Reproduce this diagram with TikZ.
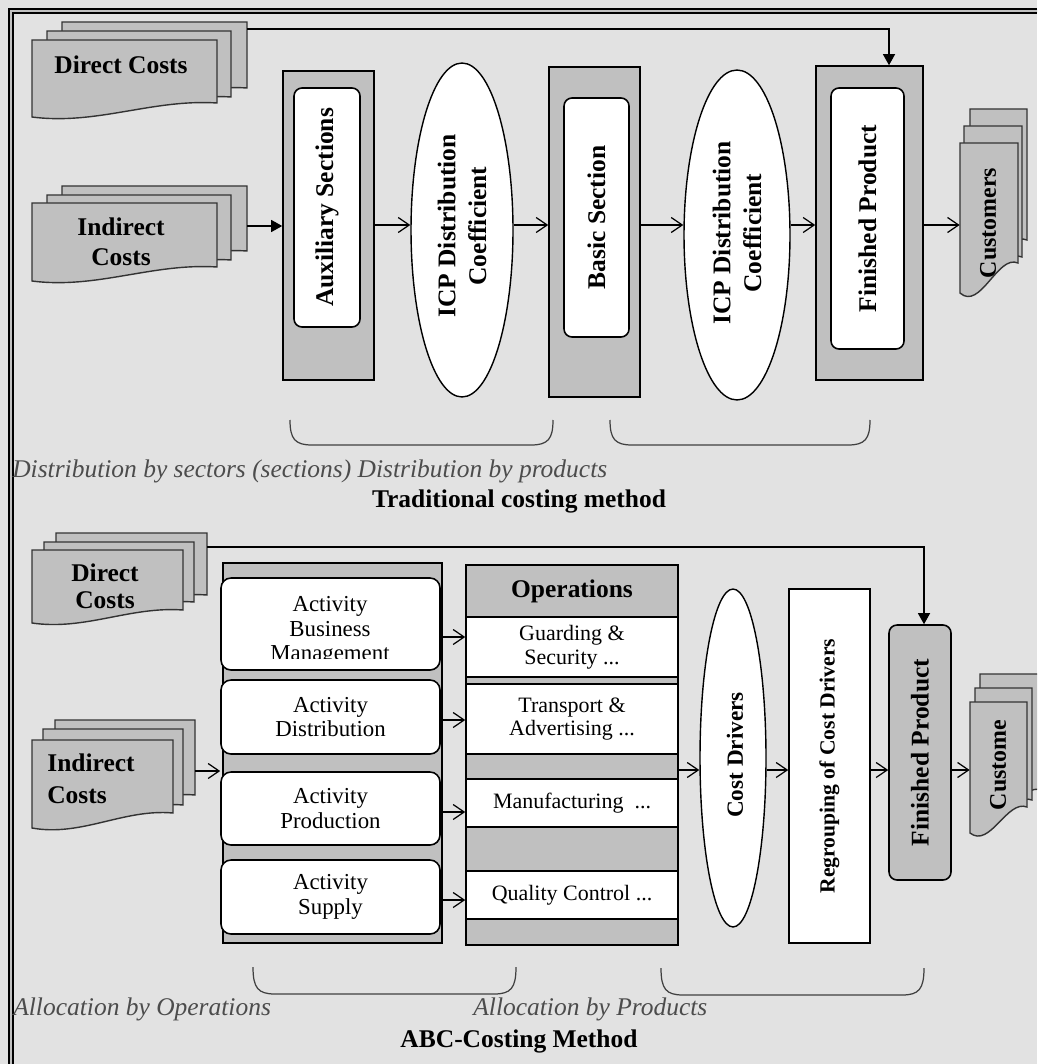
\documentclass[tikz,border=0pt]{standalone}
\usepackage{fontspec}
\setmainfont{Liberation Serif}
\usetikzlibrary{shapes.geometric,arrows.meta,fit}

\definecolor{boxgray}{RGB}{192,192,192}
\definecolor{bggray}{RGB}{226,226,226}

% one page of a document stack: x0, y0, x1, right bottom, drop of the wave
\newcommand{\docpage}[5]{%
  \filldraw[fill=boxgray, draw=black!80, line width=0.8pt]
    (#1,#2) -- (#3,#2) -- (#3,#4)
    .. controls ({#1+0.65*(#3-#1)},{#4-0.3*#5}) and ({#1+0.35*(#3-#1)},{#4+1.6*#5})
    .. (#1,{#4+#5}) -- cycle;}

% curly brace under a group: x0, x1, top, bottom
\newcommand{\brc}[4]{%
  \draw[black!75, line width=0.7pt] (#1,#3) .. controls (#1,{#4-6}) and ({#1+5},#4) .. ({#1+22},#4)
    -- ({#2-22},#4) .. controls ({#2-5},#4) and (#2,{#4-6}) .. (#2,#3);}

\tikzset{
  graybox/.style={draw, fill=boxgray, line width=0.9pt, inner sep=0pt},
  whitebox/.style={draw, fill=white, rounded corners=0.16cm, line width=0.9pt, inner sep=0pt},
  rowbox/.style={draw, fill=white, line width=0.9pt, inner sep=0pt},
  ellip/.style={ellipse, draw, fill=white, line width=0.8pt, inner sep=0pt},
  vlab/.style={rotate=90, font=\fontsize{14.5}{17.5}\selectfont\bfseries, align=center},
  doclab/.style={font=\fontsize{14.5}{17}\selectfont\bfseries, align=center},
  actlab/.style={font=\fontsize{13}{14}\selectfont, align=center},
  oplab/.style={font=\fontsize{12.5}{13.5}\selectfont, align=center},
  note/.style={font=\fontsize{14.5}{17}\selectfont\itshape, text=black!70, inner sep=0pt},
  headtext/.style={font=\fontsize{14.5}{17}\selectfont\bfseries, inner sep=0pt},
  opentip/.style={-{Straight Barb[length=0.22cm,width=0.3cm]}, line width=0.7pt},
  filltip/.style={-{Triangle[length=0.22cm,width=0.24cm]}, line width=0.7pt},
}

\begin{document}
\begin{tikzpicture}[x=0.02cm, y=-0.02cm]
  \useasboundingbox (0,0) rectangle (1037,1064);
  \clip (0,0) rectangle (1037,1064);
  \fill[bggray] (0,0) rectangle (1037,1064);
  % frame
  \fill[boxgray] (9,1064) -- (9,9) -- (1037,9) -- (1037,13) -- (13,13) -- (13,1064) -- cycle;
  \draw[line width=0.8pt] (9,1064) -- (9,9) -- (1037,9);
  \draw[line width=0.8pt] (13,1064) -- (13,13) -- (1037,13);

  % traditional costing method
  \docpage{62}{22}{247}{88}{14}
  \docpage{47}{31}{231}{97}{14}
  \docpage{32}{40}{217}{103}{14}
  \node[doclab] (dc) at (121,65) {Direct Costs};
  \docpage{62}{186}{247}{251}{14}
  \docpage{47}{195}{231}{260}{14}
  \docpage{32}{203}{217}{267}{14}
  \node[doclab] (ic) at (121,242) {Indirect\\Costs};

  \node[graybox, fit={(283,71) (374,380)}] (aux) {};
  \node[whitebox, fit={(294,88) (360,327)}] (auxin) {};
  \node[vlab] (auxt) at (auxin) {Auxiliary Sections};

  \node[ellip, minimum width=2.04cm, minimum height=6.68cm] (icp1) at (462,230) {};
  \node[vlab] (icp1t) at (462,226) {ICP Distribution\\Coefficient};

  \node[graybox, fit={(549,67) (640,397)}] (basic) {};
  \node[whitebox, fit={(564,98) (629,337)}] (basicin) {};
  \node[vlab] (basict) at (basicin) {Basic Section};

  \node[ellip, minimum width=2.12cm, minimum height=6.6cm] (icp2) at (737,235) {};
  \node[vlab] (icp2t) at (737,233) {ICP Distribution\\Coefficient};

  \node[graybox, fit={(816,66) (923,380)}] (fin) {};
  \node[whitebox, fit={(831,88) (904,349)}] (finin) {};
  \node[vlab] (fint) at (finin) {Finished Product};

  \docpage{970}{109}{1027}{240}{30}
  \docpage{964}{126}{1022}{257}{30}
  \docpage{960}{143}{1018}{263}{30}
  \node[fit={(960,143) (1018,263)}, inner sep=0pt] (cust) {};
  \node[vlab, font=\fontsize{13.6}{16}\selectfont\bfseries] (custt) at (988,223) {Customers};

  \coordinate (rowT) at (0,225);
  \coordinate (dcR) at (247,29);
  \coordinate (dcT) at (889,29);
  \coordinate (icR) at (247,226);
  \draw[filltip] (dcR) -- (dcT) -- (dcT |- fin.north);
  \draw[filltip] (icR) -- (aux.west |- icR);
  \draw[opentip] (aux.east |- rowT) -- (icp1.west |- rowT);
  \draw[opentip] (icp1.east |- rowT) -- (basic.west |- rowT);
  \draw[opentip] (basic.east |- rowT) -- (icp2.west |- rowT);
  \draw[opentip] (icp2.east |- rowT) -- (fin.west |- rowT);
  \draw[opentip] (fin.east |- rowT) -- (cust.west |- rowT);

  \brc{290}{553}{420}{445}
  \brc{610}{870}{420}{445}
  \node[note, anchor=base west] (cap1) at (12,477) {Distribution\ by sectors\ (sections)\ Distribution\ by products};
  \node[headtext, anchor=base] (tit1) at (519,507) {Traditional costing method};

  % ABC-costing method
  \docpage{56}{533}{207}{595}{13}
  \docpage{44}{542}{194}{602}{13}
  \docpage{32}{550}{183}{610}{13}
  \node[doclab, font=\fontsize{14.5}{15.5}\selectfont\bfseries] (dc2) at (105,586) {Direct\\Costs};
  \docpage{55}{720}{195}{795}{14}
  \docpage{43}{729}{183}{805}{14}
  \docpage{32}{740}{173}{813}{15}
  \node[doclab, align=left, anchor=west, inner sep=0pt, font=\fontsize{14.5}{18}\selectfont\bfseries] (ic2) at (47,779) {Indirect\\Costs};

  \node[graybox, fit={(223,563) (442,943)}] (acts) {};
  \node[whitebox, rounded corners=0.2cm, fit={(221,578) (440,670)}] (act1) {};
  \node[whitebox, rounded corners=0.2cm, fit={(221,680) (440,754)}] (act2) {};
  \node[whitebox, rounded corners=0.2cm, fit={(221,772) (440,845)}] (act3) {};
  \node[whitebox, rounded corners=0.2cm, fit={(221,860) (440,934)}] (act4) {};
  \begin{scope}
    \clip (221,578) rectangle (440,658);
    \node[actlab] (act1t) at (330,631) {Activity\\Business\\Management};
  \end{scope}
  \node[actlab] (act2t) at (act2) {Activity\\Distribution};
  \node[actlab] (act3t) at (act3) {Activity\\Production};
  \node[actlab] (act4t) at (act4) {Activity\\Supply};

  \node[graybox, fit={(466,565) (678,945)}] (ops) {};
  \node[headtext] (opst) at (572,591) {Operations};
  \node[rowbox, fit={(466,617) (678,677)}] (op1) {};
  \node[rowbox, fit={(466,684) (678,754)}] (op2) {};
  \node[rowbox, fit={(466,779) (678,827)}] (op3) {};
  \node[rowbox, fit={(466,871) (678,919)}] (op4) {};
  \node[oplab] (op1t) at (op1) {Guarding \&\\Security ...};
  \node[oplab] (op2t) at (op2) {Transport \&\\Advertising ...};
  \node[oplab] (op3t) at (op3) {Manufacturing\ \ ...};
  \node[oplab] (op4t) at (op4) {Quality Control ...};

  \node[ellip, minimum width=1.32cm, minimum height=6.76cm] (cd) at (733,758) {};
  \node[vlab, font=\fontsize{13.2}{15}\selectfont\bfseries] (cdt) at (735,755) {Cost Drivers};
  \node[rowbox, fit={(789,589) (870,943)}] (regr) {};
  \node[vlab, font=\fontsize{12.3}{14}\selectfont\bfseries] (regrt) at (regr) {Regrouping of Cost Drivers};
  \node[graybox, rounded corners=0.16cm, fit={(889,625) (951,880)}] (fin2) {};
  \node[vlab] (fin2t) at (fin2) {Finished Product};

  \docpage{980}{674}{1042}{790}{26}
  \docpage{975}{688}{1032}{800}{26}
  \docpage{970}{702}{1027}{807}{26}
  \node[fit={(970,702) (1027,807)}, inner sep=0pt] (cust2) {};
  \node[vlab, font=\fontsize{13.6}{16}\selectfont\bfseries] (cust2t) at (998,765) {Custome};

  \coordinate (rowB) at (0,770);
  \coordinate (dcR2) at (207,547);
  \coordinate (dcT2) at (924,547);
  \coordinate (icR2) at (195,771);
  \draw[filltip] (dcR2) -- (dcT2) -- (dcT2 |- fin2.north);
  \draw[opentip] (icR2) -- (act3.west |- icR2);
  \foreach \i/\y in {1/637,2/720,3/812,4/900}{
    \coordinate (r\i) at (0,\y);
    \draw[opentip] (act\i.east |- r\i) -- (op\i.west |- r\i);
  }
  \draw[opentip] (ops.east |- rowB) -- (cd.west |- rowB);
  \draw[opentip] (cd.east |- rowB) -- (regr.west |- rowB);
  \draw[opentip] (regr.east |- rowB) -- (fin2.west |- rowB);
  \draw[opentip] (fin2.east |- rowB) -- (cust2.west |- rowB);

  \brc{253}{516}{967}{994}
  \brc{661}{924}{968}{995}
  \node[note, anchor=base west] (cap2) at (13,1015) {Allocation by Operations};
  \node[note, anchor=base west] (cap3) at (473,1015) {Allocation by Products};
  \node[headtext, anchor=base] (tit2) at (519,1047) {ABC-Costing Method};
\end{tikzpicture}
\end{document}
